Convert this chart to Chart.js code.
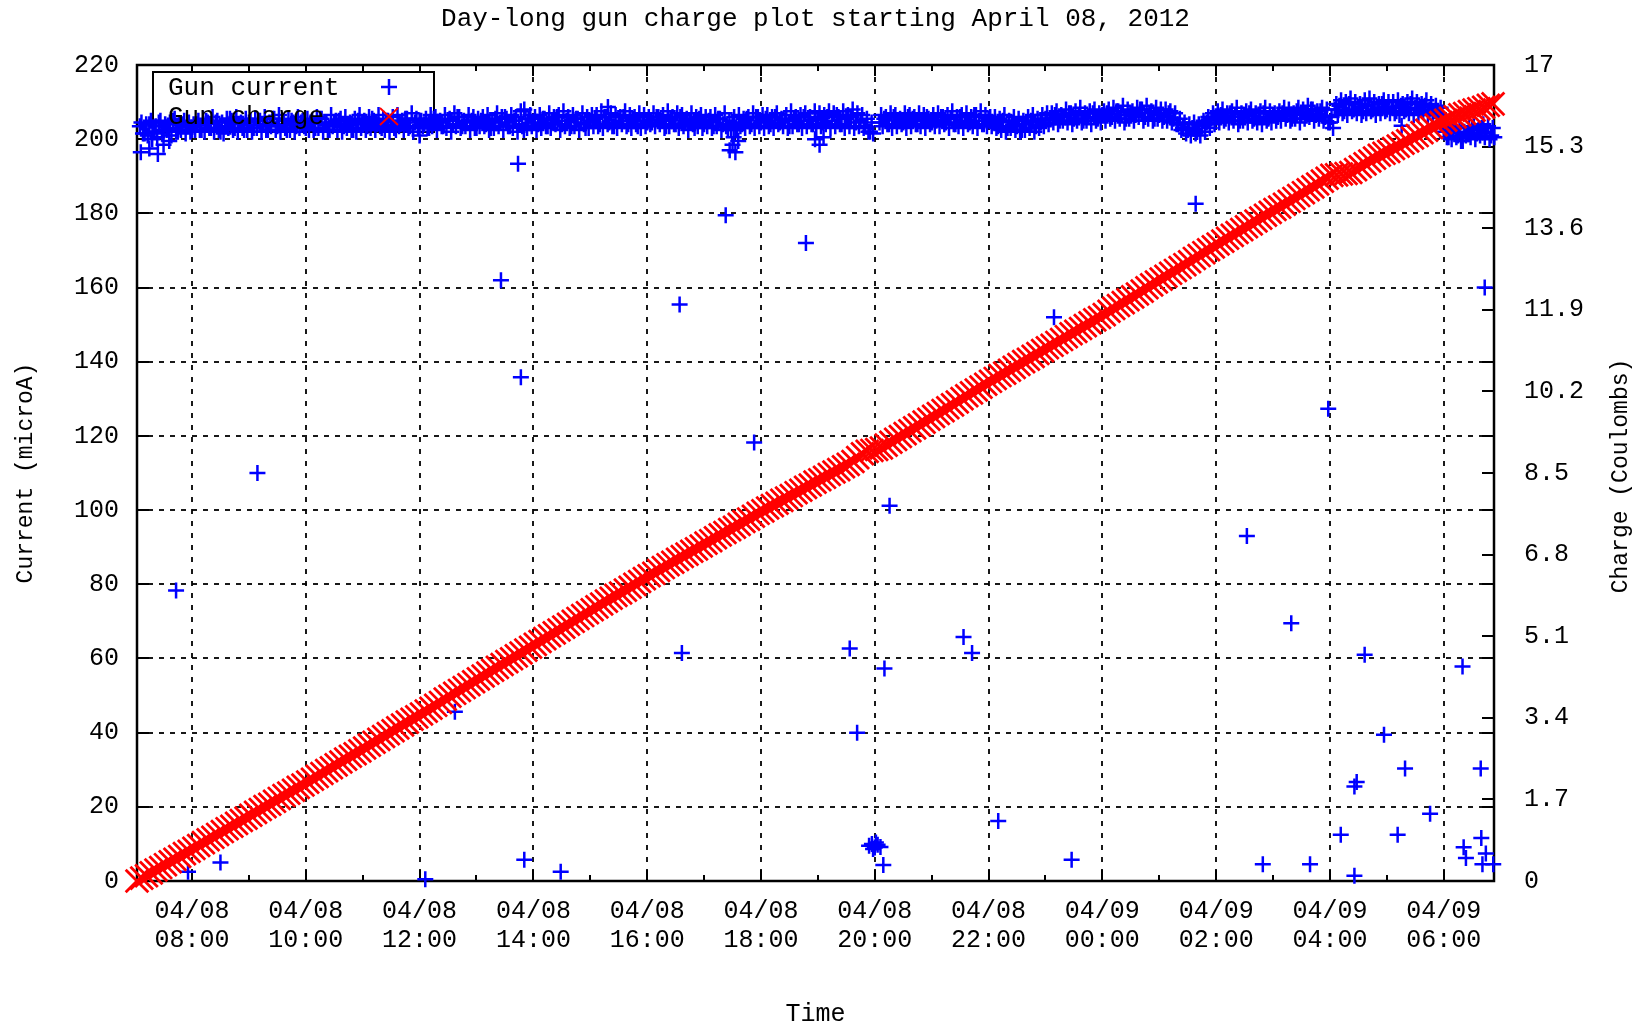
<!DOCTYPE html>
<html>
<head>
<meta charset="utf-8">
<script src="https://cdn.jsdelivr.net/npm/chart.js@4.4.1/dist/chart.umd.min.js"></script>
<style>
  html, body { margin: 0; padding: 0; background: #ffffff; }
  canvas { display: block; }
</style>
</head>
<body>
<canvas id="c" width="1649" height="1026"></canvas>
<script>
// ---------------- DATA ----------------
const chartTitle = 'Day-long gun charge plot starting April 08, 2012';
const seriesNames = ['Gun current', 'Gun charge'];

// x axis: hours counted from 04/08 00:00
const xMin = 7.0333;   // 04/08 07:02
const xMax = 30.8833;  // 04/09 06:53
const xMajorHours = [8, 10, 12, 14, 16, 18, 20, 22, 24, 26, 28, 30];
const xDateLabels = ['04/08', '04/08', '04/08', '04/08', '04/08', '04/08', '04/08', '04/08', '04/09', '04/09', '04/09', '04/09'];
const xTimeLabels = ['08:00', '10:00', '12:00', '14:00', '16:00', '18:00', '20:00', '22:00', '00:00', '02:00', '04:00', '06:00'];
const xMinorHours = [9, 11, 13, 15, 17, 19, 21, 23, 25, 27, 29];

const yTickValues = [0, 20, 40, 60, 80, 100, 120, 140, 160, 180, 200, 220];
const y2TickValues = [0, 1.7, 3.4, 5.1, 6.8, 8.5, 10.2, 11.9, 13.6, 15.3, 17];
const y2TickLabels = ['0', '1.7', '3.4', '5.1', '6.8', '8.5', '10.2', '11.9', '13.6', '15.3', '17'];

// Gun current (microA), noisy main band read every 5 minutes from 07:05 to 06:50:
// a middle reading, the upper edge and the lower edge of the band.
const currentBandStartHour = 7 + 5 / 60;
const currentBandStepMinutes = 5;
const currentBandMid = [
  203.5, 201.5, 204, 202, 204.5, 202.5, 203, 205, 202, 204, 203.5, 202.5,      // 07h
  204, 202.5, 205, 203, 204.5, 202, 203.5, 205.5, 203, 204, 202.5, 204.5,      // 08h
  203, 205, 204, 202.5, 205.5, 203.5, 204, 202.5, 205, 203.5, 204.5, 203,      // 09h
  204.5, 203, 205.5, 204, 202.5, 204.5, 205, 203.5, 204, 202.5, 205, 204,      // 10h
  203.5, 205.5, 204, 203, 205, 204.5, 202.5, 204, 205.5, 203.5, 204.5, 205,    // 11h
  204, 203, 205.5, 204.5, 203.5, 205, 204, 206, 203.5, 204.5, 205, 203,        // 12h
  205, 204, 203, 205.5, 204.5, 206, 203.5, 205, 204, 202.5, 205.5, 204.5,      // 13h
  204, 205.5, 203.5, 204.5, 206, 204, 205, 203.5, 205.5, 204.5, 203, 205,      // 14h
  205.5, 204, 206, 204.5, 203.5, 205, 206, 204, 205.5, 203.5, 205, 204.5,      // 15h
  204.5, 206, 205, 203.5, 205.5, 204, 206, 204.5, 205, 203, 205.5, 204,        // 16h
  205, 203.5, 205.5, 204, 203, 204.5, 202.5, 204, 205.5, 204, 206, 204.5,      // 17h
  205.5, 204, 206, 204.5, 205, 203.5, 205.5, 204, 206, 205, 204, 205.5,        // 18h
  204.5, 206, 205, 206.5, 204, 205.5, 206, 204.5, 205, 203.5, 202, null,       // 19h
  204.5, 205.5, 204, 206, 205, 204.5, 206, 205.5, 204, 205, 206, 204.5,        // 20h
  205, 206, 204.5, 205.5, 204, 206, 205, 204.5, 206.5, 205, 204, 205.5,        // 21h
  204.5, 203.5, 205, 203, 204.5, 203.5, 202.5, 204, 205, 203.5, 204.5, 205.5,  // 22h
  205.5, 206.5, 205, 206, 207, 205.5, 206.5, 205, 206, 207, 205.5, 206.5,      // 23h
  207, 206, 207.5, 206.5, 205.5, 207, 206.5, 208, 206, 207, 205.5, 206.5,      // 00h
  206, 207, 205.5, 204, 203, 202.5, 203, 202, 203.5, 204.5, 205.5, 206,        // 01h
  206.5, 205.5, 207, 206, 205, 206.5, 207, 205.5, 206, 207, 205.5, 206.5,      // 02h
  206, 207, 206.5, 205.5, 207.5, 206.5, 207, 208, 206.5, 207.5, 206, 204.5,    // 03h
  208, 209, 207.5, 209.5, 208, 208.5, 207.5, 209, 208, 208.5, 209.5, 208,      // 04h
  208.5, 207.5, 209, 208, 209.5, 208.5, 208, 209, 208, 207.5, 207, 202,        // 05h
  200.5, 202, 201, 199.5, 201.5, 202.5, 201.5, 203, 202, 201                   // 06h
];
const currentBandUpper = [
  204.5, 204, 205, 203.5, 205, 204, 204.5, 205.5, 204, 205, 204.5, 204,        // 07h
  205, 205.5, 204.5, 206, 205, 204.5, 205.5, 205, 206, 204.5, 205.5, 205,      // 08h
  205.5, 205, 206, 204.5, 205.5, 206.5, 205, 205.5, 204.5, 206, 205, 205.5,    // 09h
  205, 206, 205.5, 204.5, 206.5, 205, 205.5, 206, 204.5, 205.5, 206.5, 205,    // 10h
  206, 205, 206.5, 205.5, 205, 206, 206.5, 205, 205.5, 207, 205.5, 205,        // 11h
  205.5, 206.5, 206, 205, 206.5, 205.5, 207, 206, 205, 206.5, 206, 205.5,      // 12h
  206, 206.5, 205, 207, 206, 205.5, 206.5, 206, 207.5, 205.5, 206.5, 206,      // 13h
  206.5, 205.5, 207, 206, 206.5, 207.5, 206, 206.5, 205.5, 207, 206, 206.5,    // 14h
  206.5, 207.5, 206, 207, 206.5, 206, 207.5, 206.5, 206, 207, 206.5, 206,      // 15h
  207, 206, 206.5, 207.5, 206, 207, 206.5, 205.5, 207, 206, 206.5, 206,        // 16h
  206, 206.5, 205.5, 207, 205, 206, 206.5, 205.5, 206, 207, 206, 206.5,        // 17h
  206.5, 206, 207, 205.5, 206.5, 207.5, 206, 206.5, 207, 206, 207.5, 207,      // 18h
  206.5, 207.5, 207, 206, 207.5, 206.5, 208, 207, 206.5, 205.5, 204.5, null,   // 19h
  206.5, 206, 207, 206.5, 205.5, 207, 206.5, 206, 207, 206.5, 205.5, 206.5,    // 20h
  207, 206, 206.5, 207.5, 206, 206.5, 207, 206, 206.5, 207.5, 206.5, 206,      // 21h
  206, 205.5, 206.5, 205, 206, 205.5, 205, 206, 206.5, 205.5, 206.5, 207,      // 22h
  207, 207.5, 206.5, 208, 207, 207.5, 208.5, 207, 207.5, 208, 207, 207.5,      // 23h
  208, 208.5, 207.5, 209, 208, 207.5, 208.5, 208, 209, 207.5, 208.5, 208,      // 00h
  208, 207.5, 207, 205.5, 204.5, 204, 204.5, 204, 205, 206, 207, 207.5,        // 01h
  208, 207, 207.5, 208.5, 207, 207.5, 208, 207, 207.5, 208.5, 207.5, 207,      // 02h
  207.5, 208.5, 208, 207, 208.5, 208, 209, 208, 207.5, 208.5, 208, 206,        // 03h
  209.5, 210.5, 210, 211, 210, 209.5, 210.5, 211, 210, 209.5, 210.5, 210,      // 04h
  210, 210.5, 209.5, 210, 211, 210, 209.5, 210.5, 209.5, 209, 208.5, 203,      // 05h
  202.5, 203.5, 203, 202, 203, 203.5, 202.5, 204, 203.5, 203                   // 06h
];
const currentBandLower = [
  201.5, 201, 202, 200.5, 201.5, 202.5, 201, 202, 202.5, 201.5, 202, 202.5,    // 07h
  202.5, 202, 203, 202, 202.5, 201.5, 203, 202.5, 202, 203, 202.5, 202,        // 08h
  203, 202, 202.5, 203.5, 202.5, 202, 203, 202.5, 202, 203, 203.5, 202.5,      // 09h
  202.5, 203, 202, 202.5, 203.5, 202.5, 202, 203, 202.5, 202, 203, 202.5,      // 10h
  203, 202.5, 203.5, 202.5, 202, 203, 203.5, 202.5, 203, 202, 203, 203.5,      // 11h
  203, 203.5, 202.5, 203.5, 203, 202, 203.5, 203, 203.5, 202.5, 203, 203.5,    // 12h
  203.5, 202.5, 203, 203.5, 202.5, 203.5, 203, 202, 203.5, 203, 203.5, 202.5,  // 13h
  203, 203.5, 203, 204, 202.5, 203.5, 203, 203.5, 202.5, 204, 203, 203.5,      // 14h
  203.5, 203, 204, 203.5, 203, 204, 203.5, 203, 204, 203, 203.5, 204,          // 15h
  203.5, 204, 203, 203.5, 204, 203, 203.5, 202.5, 204, 203.5, 203, 203.5,      // 16h
  203, 203.5, 202.5, 203.5, 203, 202.5, 203.5, 203, 203.5, 203, 203.5, 203,    // 17h
  203.5, 203, 204, 203.5, 203, 203.5, 204, 203, 203.5, 204, 203, 203.5,        // 18h
  204, 203, 203.5, 204, 203, 203.5, 203, 203.5, 203, 202, 201.5, null,         // 19h
  203.5, 204, 203, 203.5, 204, 203, 203.5, 204, 203.5, 203, 204, 203.5,        // 20h
  203.5, 204, 203, 204, 203.5, 203, 204, 203.5, 203, 204, 203.5, 203.5,        // 21h
  203, 202.5, 202, 203, 202.5, 202, 202.5, 203, 202, 203, 203.5, 204,          // 22h
  204.5, 204, 205, 204.5, 204, 205, 204.5, 205, 204, 205, 204.5, 205,          // 23h
  205.5, 205, 205.5, 204.5, 205.5, 205, 206, 205, 205.5, 205, 205.5, 205,      // 00h
  205, 204.5, 204, 202.5, 201.5, 201, 201.5, 201, 202, 203, 204, 204.5,        // 01h
  205, 204.5, 205, 204, 205, 204.5, 205, 204.5, 204, 205, 204.5, 205,          // 02h
  205, 205.5, 205, 205.5, 204.5, 205.5, 206, 205, 205.5, 205, 204.5, 203,      // 03h
  206.5, 207, 206.5, 207.5, 207, 206.5, 207, 207.5, 206.5, 207, 207.5, 207,    // 04h
  207, 206.5, 207.5, 207, 206.5, 207, 207.5, 206.5, 207, 206.5, 206, 200.5,    // 05h
  200, 200.5, 199.5, 201, 200.5, 200, 201, 200.5, 200, 200.5                   // 06h
];

// Gun current outliers: hour, value
const currentOutlierHours = [
  7.10, 7.25, 7.30, 7.40, 7.50, 7.60, 7.72, 7.93, 8.50, 9.15, 12.00, 12.10, 12.62,
  13.43, 13.73, 13.78, 13.84, 13.84, 14.48, 15.31, 16.57, 16.61, 17.38,
  17.45, 17.50, 17.52, 17.55, 17.60, 17.88, 18.79, 18.95, 19.03, 19.10,
  19.56, 19.69, 19.90, 19.95, 19.97, 20.00, 20.02, 20.05, 20.10, 20.15, 20.17, 20.26,
  21.56, 21.71, 22.17, 23.15, 23.46, 25.64, 26.54, 26.82, 27.32, 27.65, 27.97,
  28.19, 28.43, 28.47, 28.43, 28.61, 28.95, 29.19, 29.26, 29.32, 29.76,
  30.33, 30.35, 30.39, 30.65, 30.66, 30.68, 30.72, 30.74, 30.87
];
const currentOutlierValues = [
  196.5, 197.5, 200, 196, 198.5, 199.5, 78.3, 2.5, 5.0, 110, 201, 0.5, 45.6,
  162, 193.4, 135.8, 5.7, 208, 2.5, 208.7, 155.4, 61.5, 179.5,
  197, 198.5, 200.5, 196.5, 199.5, 118.2, 172, 200, 198.5, 200.5,
  62.7, 40, 9.5, 10, 8.6, 9, 10.4, 9.8, 9.2, 4.3, 57.3, 101.2,
  65.8, 61.5, 16.2, 152, 5.7, 182.6, 93, 4.5, 69.5, 4.5, 127.3,
  12.5, 25.5, 26.7, 1.4, 61, 39.4, 12.5, 203.6, 30.3, 18.1,
  57.8, 9.1, 6.2, 30.3, 11.6, 4.5, 160, 7.4, 4.5
];

// Gun charge (Coulombs): read every 5 minutes from 07:02 to 06:52
const chargeStartHour = 7 + 2 / 60;
const chargeStepMinutes = 5;
const gunCharge = [
  0, 0.06, 0.11, 0.17, 0.23, 0.28, 0.34, 0.40, 0.45, 0.51, 0.57, 0.62,                 // 07h
  0.68, 0.74, 0.80, 0.86, 0.91, 0.97, 1.03, 1.09, 1.14, 1.20, 1.26, 1.31,              // 08h
  1.37, 1.43, 1.49, 1.55, 1.60, 1.66, 1.72, 1.78, 1.83, 1.89, 1.95, 2.00,              // 09h
  2.06, 2.12, 2.18, 2.24, 2.30, 2.36, 2.42, 2.48, 2.54, 2.60, 2.65, 2.71,              // 10h
  2.77, 2.83, 2.89, 2.95, 3.01, 3.07, 3.13, 3.19, 3.25, 3.31, 3.37, 3.42,              // 11h
  3.48, 3.54, 3.60, 3.66, 3.72, 3.79, 3.85, 3.91, 3.97, 4.03, 4.09, 4.15,              // 12h
  4.21, 4.27, 4.33, 4.39, 4.45, 4.51, 4.57, 4.63, 4.69, 4.75, 4.81, 4.87,              // 13h
  4.93, 4.99, 5.05, 5.11, 5.17, 5.23, 5.29, 5.35, 5.41, 5.47, 5.53, 5.59,              // 14h
  5.65, 5.71, 5.77, 5.83, 5.89, 5.95, 6.00, 6.06, 6.12, 6.18, 6.24, 6.30,              // 15h
  6.36, 6.41, 6.47, 6.53, 6.59, 6.64, 6.70, 6.76, 6.81, 6.87, 6.92, 6.98,              // 16h
  7.04, 7.09, 7.15, 7.21, 7.26, 7.32, 7.37, 7.43, 7.49, 7.54, 7.60, 7.66,              // 17h
  7.71, 7.77, 7.82, 7.87, 7.93, 7.98, 8.03, 8.09, 8.14, 8.20, 8.25, 8.31,              // 18h
  8.36, 8.41, 8.47, 8.52, 8.57, 8.63, 8.68, 8.74, 8.82, 8.90, 8.95, 8.97,              // 19h
  8.99, 9.02, 9.08, 9.14, 9.20, 9.26, 9.32, 9.38, 9.44, 9.50, 9.56, 9.62,              // 20h
  9.68, 9.74, 9.80, 9.86, 9.92, 9.98, 10.05, 10.11, 10.17, 10.23, 10.29, 10.35,        // 21h
  10.41, 10.47, 10.53, 10.58, 10.64, 10.70, 10.76, 10.82, 10.87, 10.93, 10.99, 11.05,  // 22h
  11.11, 11.16, 11.22, 11.28, 11.34, 11.40, 11.45, 11.51, 11.57, 11.63, 11.69, 11.74,  // 23h
  11.80, 11.87, 11.93, 11.99, 12.05, 12.11, 12.17, 12.23, 12.29, 12.36, 12.42, 12.48,  // 00h
  12.54, 12.60, 12.66, 12.72, 12.78, 12.84, 12.90, 12.97, 13.03, 13.09, 13.15, 13.21,  // 01h
  13.27, 13.33, 13.39, 13.45, 13.51, 13.57, 13.63, 13.69, 13.75, 13.81, 13.87, 13.93,  // 02h
  13.99, 14.04, 14.10, 14.16, 14.22, 14.28, 14.34, 14.40, 14.46, 14.52, 14.58, 14.64,  // 03h
  14.70, 14.71, 14.73, 14.74, 14.76, 14.82, 14.88, 14.94, 15.00, 15.06, 15.12, 15.16,  // 04h
  15.20, 15.26, 15.31, 15.37, 15.42, 15.48, 15.53, 15.59, 15.64, 15.70, 15.75, 15.80,  // 05h
  15.85, 15.89, 15.92, 15.96, 15.99, 16.03, 16.06, 16.09, 16.12, 16.16, 16.19          // 06h
];

// ---------------- BUILD ----------------
const FONT = "'Liberation Mono', 'DejaVu Sans Mono', monospace";

const currentPoints = [];
const bandStep = currentBandStepMinutes / 60;
[[currentBandMid, 0], [currentBandUpper, 1.7 / 60], [currentBandLower, 3.3 / 60]].forEach(([arr, shift]) => {
  arr.forEach((v, i) => {
    if (v !== null) currentPoints.push({ x: currentBandStartHour + shift + i * bandStep, y: v });
  });
});
currentOutlierHours.forEach((h, i) => currentPoints.push({ x: h, y: currentOutlierValues[i] }));

const chargePoints = gunCharge.map((v, i) => ({ x: chargeStartHour + i * chargeStepMinutes / 60, y: v }));

function keyBox(a) { return { bx: a.left + 16, by: a.top + 7, bw: 281, bh: 60 }; }

const frameAndLegend = {
  id: 'frameAndLegend',
  beforeDatasetsDraw(chart) {
    const { ctx, chartArea: a, scales } = chart;
    ctx.save();
    ctx.strokeStyle = '#000';
    ctx.lineWidth = 2;
    ctx.setLineDash([]);
    ctx.beginPath();
    xMajorHours.forEach(h => {
      const x = Math.round(scales.x.getPixelForValue(h));
      ctx.moveTo(x, a.bottom); ctx.lineTo(x, a.bottom - 11);
      ctx.moveTo(x, a.top); ctx.lineTo(x, a.top + 11);
    });
    xMinorHours.forEach(h => {
      const x = Math.round(scales.x.getPixelForValue(h));
      ctx.moveTo(x, a.bottom); ctx.lineTo(x, a.bottom - 6);
      ctx.moveTo(x, a.top); ctx.lineTo(x, a.top + 6);
    });
    yTickValues.forEach(v => {
      const y = Math.round(scales.y.getPixelForValue(v));
      ctx.moveTo(a.left, y); ctx.lineTo(a.left + 12, y);
      ctx.moveTo(a.right, y); ctx.lineTo(a.right - 12, y);
    });
    y2TickValues.forEach(v => {
      const y = Math.round(scales.y2.getPixelForValue(v));
      ctx.moveTo(a.right, y); ctx.lineTo(a.right - 12, y);
    });
    ctx.stroke();
    ctx.lineWidth = 2.5;
    ctx.strokeRect(a.left, a.top, a.right - a.left, a.bottom - a.top);

    // key box and first entry (under the data)
    const { bx, by, bw, bh } = keyBox(a);
    ctx.fillStyle = '#ffffff';
    ctx.fillRect(bx, by, bw, bh);
    ctx.lineWidth = 2;
    ctx.strokeRect(bx, by, bw, bh);
    ctx.fillStyle = '#000';
    ctx.font = '26px ' + FONT;
    ctx.textAlign = 'left';
    ctx.textBaseline = 'middle';
    ctx.fillText(seriesNames[0], bx + 15, by + 16);
    const mx = bx + 236;
    ctx.lineWidth = 2.5;
    ctx.strokeStyle = '#0000ff';
    ctx.beginPath();
    ctx.moveTo(mx - 8, by + 15); ctx.lineTo(mx + 8, by + 15);
    ctx.moveTo(mx, by + 7); ctx.lineTo(mx, by + 23);
    ctx.stroke();
    ctx.restore();
  },
  afterDatasetDraw(chart, args) {
    // second key entry is drawn after the current points, before the charge points
    if (args.meta.yAxisID !== 'y') return;
    const { ctx, chartArea: a } = chart;
    const { bx, by } = keyBox(a);
    ctx.save();
    ctx.fillStyle = '#000';
    ctx.font = '26px ' + FONT;
    ctx.textAlign = 'left';
    ctx.textBaseline = 'middle';
    ctx.fillText(seriesNames[1], bx + 15, by + 45);
    const mx = bx + 236;
    ctx.lineWidth = 1.8;
    ctx.strokeStyle = '#ff0000';
    ctx.beginPath();
    ctx.moveTo(mx - 9, by + 36); ctx.lineTo(mx + 9, by + 53);
    ctx.moveTo(mx + 9, by + 36); ctx.lineTo(mx - 9, by + 53);
    ctx.stroke();
    ctx.restore();
  },
  afterDraw(chart) {
    const { ctx, chartArea: a } = chart;
    ctx.save();
    ctx.fillStyle = '#000';
    ctx.font = '26px ' + FONT;
    ctx.textAlign = 'center';
    ctx.textBaseline = 'middle';
    ctx.fillText(chartTitle, (a.left + a.right) / 2, 19);
    // right axis title, reading bottom to top
    ctx.font = '23px ' + FONT;
    ctx.translate(1621, (a.top + a.bottom) / 2 + 3);
    ctx.rotate(-Math.PI / 2);
    ctx.fillText('Charge (Coulombs)', 0, 0);
    ctx.restore();
  }
};

const gridColor = 'rgba(0,0,0,0.9)';

new Chart(document.getElementById('c'), {
  type: 'scatter',
  data: {
    datasets: [
      {
        label: seriesNames[1], yAxisID: 'y2', data: chargePoints,
        pointStyle: 'crossRot', pointRadius: 16, pointBorderWidth: 2.8,
        borderColor: '#ff0000', backgroundColor: '#ff0000', showLine: false, clip: false, order: 0
      },
      {
        label: seriesNames[0], yAxisID: 'y', data: currentPoints,
        pointStyle: 'cross', pointRadius: 8, pointBorderWidth: 2.5,
        borderColor: '#0000ff', backgroundColor: '#0000ff', showLine: false, clip: false, order: 1
      }
    ]
  },
  options: {
    responsive: false,
    animation: false,
    events: [],
    layout: { padding: { top: 65, left: 0, right: 0, bottom: 0 } },
    plugins: { legend: { display: false }, tooltip: { enabled: false }, title: { display: false } },
    scales: {
      x: {
        type: 'linear', position: 'bottom', min: xMin, max: xMax,
        afterBuildTicks: s => { s.ticks = xMajorHours.map(v => ({ value: v })); },
        afterFit: s => { s.height = 145; },
        grid: { color: gridColor, lineWidth: 2, drawTicks: false },
        border: { display: false, dash: [5, 7] },
        ticks: {
          autoSkip: false, maxRotation: 0, minRotation: 0, padding: 16, color: '#000',
          font: { family: FONT, size: 25, lineHeight: 1.16 },
          callback: v => { const i = xMajorHours.indexOf(v); return i < 0 ? '' : [xDateLabels[i], xTimeLabels[i]]; }
        },
        title: { display: true, text: 'Time', color: '#000', font: { family: FONT, size: 25, lineHeight: 0.9 }, padding: { top: 0, bottom: 0 } }
      },
      y: {
        position: 'left', min: 0, max: 220,
        afterBuildTicks: s => { s.ticks = yTickValues.map(v => ({ value: v })); },
        afterFit: s => { s.width = 137; },
        grid: { color: gridColor, lineWidth: 2, drawTicks: false },
        border: { display: false, dash: [5, 6] },
        ticks: { padding: 18, color: '#000', font: { family: FONT, size: 25 } },
        title: { display: true, text: 'Current (microA)', color: '#000', font: { family: FONT, size: 23, lineHeight: 1.2 }, padding: { top: 12, bottom: 0 } }
      },
      y2: {
        position: 'right', min: 0, max: 17,
        afterBuildTicks: s => { s.ticks = y2TickValues.map(v => ({ value: v })); },
        afterFit: s => { s.width = 155; },
        grid: { display: false, drawTicks: false },
        border: { display: false },
        ticks: { padding: 30, color: '#000', font: { family: FONT, size: 25 }, callback: (v, i) => y2TickLabels[i] }
      }
    }
  },
  plugins: [frameAndLegend]
});
</script>
</body>
</html>
